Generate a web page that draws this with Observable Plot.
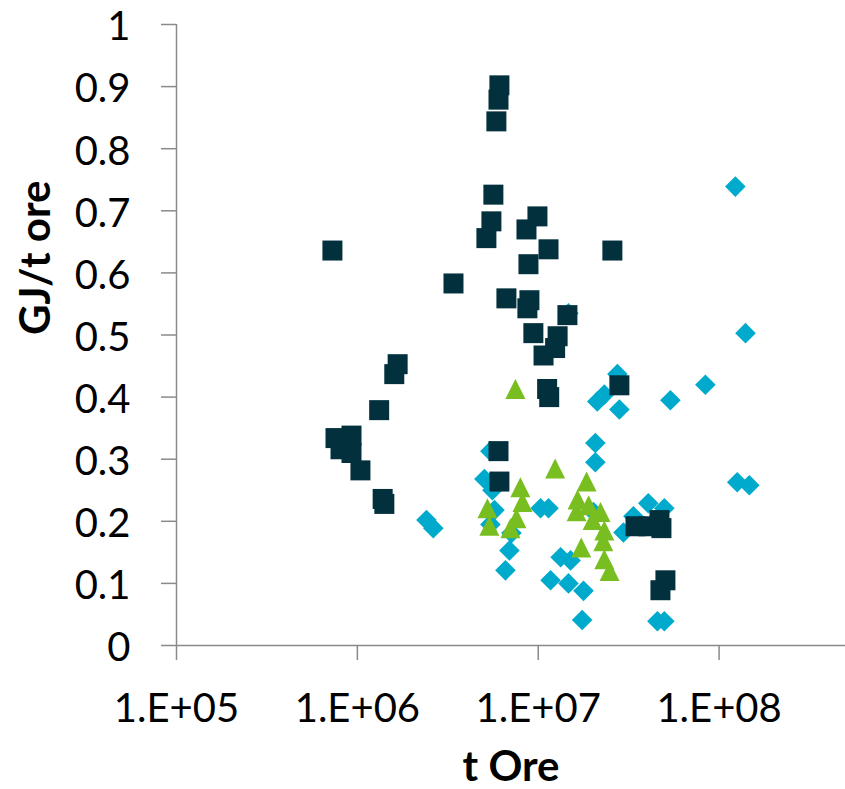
<!DOCTYPE html>
<html>
<head>
<meta charset="utf-8">
<script src="https://cdn.jsdelivr.net/npm/d3@7"></script>
<script src="https://cdn.jsdelivr.net/npm/@observablehq/plot@0.6"></script>
<style>
  html, body { margin: 0; padding: 0; background: #ffffff; }
  #chart svg { display: block; font-family: Lato, "Open Sans", sans-serif; }
</style>
</head>
<body>
<div id="chart"></div>
<script>
// Series: [tonnes of ore, GJ per tonne of ore]
const squareSeries = [
  [7.28e5, 0.636], [7.57e5, 0.334], [9.28e5, 0.338], [8.07e5, 0.316], [9.28e5, 0.310],
  [1.04e6, 0.282], [1.38e6, 0.236], [1.41e6, 0.228], [1.32e6, 0.379], [1.60e6, 0.437],
  [1.67e6, 0.453], [3.40e6, 0.583], [5.17e6, 0.656], [5.51e6, 0.683], [5.65e6, 0.726],
  [5.87e6, 0.844], [6.03e6, 0.879], [6.10e6, 0.902], [9.90e6, 0.691], [8.61e6, 0.670],
  [1.14e7, 0.638], [2.57e7, 0.636], [8.83e6, 0.614], [6.67e6, 0.559], [8.94e6, 0.556],
  [8.71e6, 0.543], [1.45e7, 0.532], [9.40e6, 0.503], [1.28e7, 0.498], [1.24e7, 0.479],
  [1.07e7, 0.467], [1.12e7, 0.413], [1.15e7, 0.400], [2.81e7, 0.419], [6.03e6, 0.313],
  [6.10e6, 0.264], [3.45e7, 0.192], [4.06e7, 0.192], [4.68e7, 0.202], [4.80e7, 0.189],
  [5.05e7, 0.105], [4.74e7, 0.089]
];

const diamondSeries = [
  [2.41e6, 0.202], [2.63e6, 0.189], [5.44e6, 0.313], [5.04e6, 0.268], [5.58e6, 0.250],
  [5.73e6, 0.218], [5.44e6, 0.195], [6.93e6, 0.153], [6.59e6, 0.121], [7.11e6, 0.181],
  [1.03e7, 0.221], [1.14e7, 0.221], [2.07e7, 0.326], [2.07e7, 0.295], [2.02e7, 0.215],
  [1.33e7, 0.142], [1.51e7, 0.137], [1.17e7, 0.105], [1.47e7, 0.100], [1.78e7, 0.088],
  [1.75e7, 0.041], [2.74e7, 0.437], [2.12e7, 0.393], [2.81e7, 0.380], [2.32e7, 0.404],
  [5.38e7, 0.395], [8.40e7, 0.420], [1.23e8, 0.739], [1.40e8, 0.503], [1.26e8, 0.263],
  [1.47e8, 0.258], [1.47e7, 0.535], [4.06e7, 0.229], [4.98e7, 0.221], [3.36e7, 0.208],
  [2.96e7, 0.182], [4.56e7, 0.039], [4.98e7, 0.039]
];

const triangleSeries = [
  [7.48e6, 0.413], [1.24e7, 0.285], [7.97e6, 0.255], [8.18e6, 0.231], [5.24e6, 0.221],
  [5.37e6, 0.193], [7.02e6, 0.189], [7.58e6, 0.205], [1.85e7, 0.264], [1.65e7, 0.235],
  [1.63e7, 0.216], [2.21e7, 0.215], [1.73e7, 0.158], [2.32e7, 0.185], [2.29e7, 0.168],
  [2.32e7, 0.139], [2.48e7, 0.120], [2.00e7, 0.202], [1.90e7, 0.226]
];

const xTicks = [1e5, 1e6, 1e7, 1e8];
const yTicks = [0, 0.1, 0.2, 0.3, 0.4, 0.5, 0.6, 0.7, 0.8, 0.9, 1];

const xTitle = "t Ore";
const yTitle = "GJ/t ore";

// Marker shapes sized so that r is the half-width of the marker
const half = size => Math.sqrt(size / Math.PI);
const squareSymbol = { draw(ctx, size) { const r = half(size); ctx.rect(-r, -r, 2 * r, 2 * r); } };
const diamondSymbol = { draw(ctx, size) { const r = half(size); ctx.moveTo(0, -r); ctx.lineTo(r, 0); ctx.lineTo(0, r); ctx.lineTo(-r, 0); ctx.closePath(); } };
const triangleSymbol = { draw(ctx, size) { const r = half(size); ctx.moveTo(0, -r); ctx.lineTo(r, r); ctx.lineTo(-r, r); ctx.closePath(); } };

const axisColor = "#8a8a8a";
const sciFormat = v => "1.E+" + String(Math.round(Math.log10(v))).padStart(2, "0");

const chart = Plot.plot({
  width: 845,
  height: 789,
  marginLeft: 176,
  marginRight: 0,
  marginTop: 24,
  marginBottom: 144,
  style: { fontFamily: "Lato, 'Open Sans', sans-serif", background: "#ffffff", color: "#000000" },
  x: { type: "log", domain: [1e5, 5e8] },
  y: { domain: [0, 1] },
  marks: [
    Plot.ruleY([0], { stroke: axisColor, strokeWidth: 1.5 }),
    Plot.ruleX([1e5], { stroke: axisColor, strokeWidth: 1.5 }),
    Plot.axisX({
      ticks: xTicks, tickFormat: sciFormat, tickSize: 15, tickPadding: 33,
      stroke: axisColor, strokeWidth: 1.5, fontSize: 40, label: null, fill: "#000000"
    }),
    // y tick marks
    Plot.axisY({
      ticks: yTicks, tickSize: 15, stroke: axisColor, strokeWidth: 1.5, fill: "none", label: null
    }),
    // y tick labels, sitting a touch below the tick line
    Plot.axisY({
      ticks: yTicks, tickFormat: d => String(+d.toFixed(1)), tickSize: 0, tickPadding: 46, dy: 3,
      fontSize: 40, label: null, fill: "#000000"
    }),
    Plot.dot(diamondSeries, { x: d => d[0], y: d => d[1], symbol: diamondSymbol, r: 10.3, fill: "#00aacc", stroke: null }),
    Plot.dot(triangleSeries, { x: d => d[0], y: d => d[1], symbol: triangleSymbol, r: 10, fill: "#78be20", stroke: null }),
    Plot.dot(squareSeries, { x: d => d[0], y: d => d[1], symbol: squareSymbol, r: 10, fill: "#02303c", stroke: null }),
    Plot.text([xTitle], { text: d => d, frameAnchor: "bottom", lineAnchor: "middle", dy: 122, fontSize: 42, fontWeight: "bold", fill: "#000000" }),
    Plot.text([yTitle], { text: d => d, frameAnchor: "left", lineAnchor: "middle", rotate: -90, dx: -140, fontSize: 42, fontWeight: "bold", fill: "#000000" })
  ]
});

document.getElementById("chart").appendChild(chart);
</script>
</body>
</html>
